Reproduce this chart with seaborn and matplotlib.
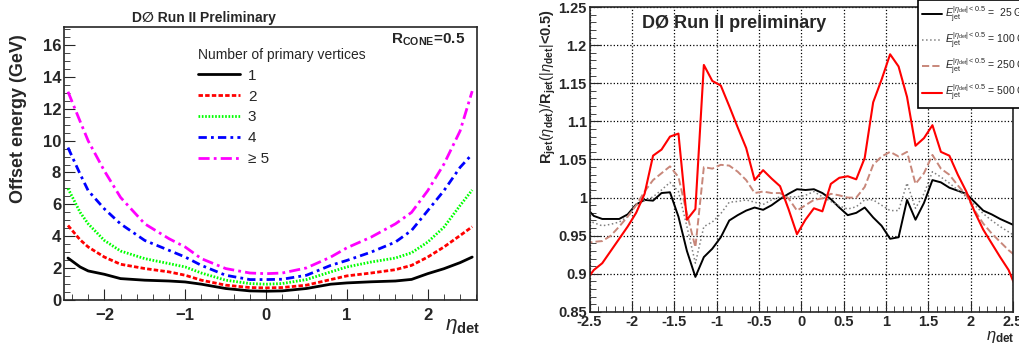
import numpy as np
import pandas as pd
import seaborn as sns
import matplotlib.pyplot as plt
from matplotlib.ticker import MultipleLocator

sns.set_style("ticks")
plt.rcParams['font.family'] = ['Liberation Sans', 'DejaVu Sans']
plt.rcParams['mathtext.fontset'] = 'custom'
plt.rcParams['mathtext.rm'] = 'Liberation Sans'
plt.rcParams['mathtext.bf'] = 'Liberation Sans:bold'
plt.rcParams['mathtext.it'] = 'Liberation Sans:italic'

# ---- left panel: offset energy vs eta_det ----
eta_off = [-2.45, -2.3, -2.2, -2.0, -1.8, -1.5, -1.2, -1.0, -0.8, -0.5, -0.2, 0.0,
           0.2, 0.5, 0.8, 1.0, 1.3, 1.6, 1.8, 2.0, 2.2, 2.4, 2.55]
off_1 = [2.64, 2.08, 1.83, 1.62, 1.35, 1.25, 1.2, 1.14, 1.0, 0.73, 0.58, 0.56,
         0.58, 0.73, 1.0, 1.08, 1.15, 1.2, 1.3, 1.66, 1.97, 2.35, 2.7]
off_2 = [4.68, 3.78, 3.33, 2.7, 2.25, 1.98, 1.77, 1.56, 1.25, 0.94, 0.79, 0.77,
         0.79, 0.94, 1.29, 1.52, 1.7, 1.91, 2.18, 2.7, 3.33, 4.05, 4.6]
off_3 = [7.0, 5.5, 4.78, 3.74, 3.08, 2.6, 2.29, 2.08, 1.7, 1.25, 1.04, 1.0,
         1.04, 1.29, 1.77, 2.08, 2.39, 2.64, 2.97, 3.64, 4.57, 5.93, 6.9]
off_4 = [9.56, 7.9, 6.86, 5.72, 4.78, 3.74, 3.12, 2.7, 2.18, 1.56, 1.29, 1.29,
         1.31, 1.56, 2.18, 2.49, 3.01, 3.64, 4.37, 5.61, 6.86, 8.32, 9.15]
off_5 = [13.06, 11.2, 9.98, 8.1, 6.44, 4.78, 3.85, 3.33, 2.6, 1.98, 1.7, 1.66,
         1.7, 2.02, 2.7, 3.28, 3.95, 4.78, 5.5, 6.86, 8.52, 10.6, 13.1]
nvtx_labels = ["1", "2", "3", "4", "\u2265 5"]

# ---- right panel: relative response vs eta_det ----
eta_resp = [-2.55, -2.45, -2.35, -2.25, -2.15, -2.05, -1.95, -1.85, -1.75, -1.65,
            -1.55, -1.45, -1.35, -1.25, -1.15, -1.05, -0.95, -0.85, -0.75, -0.65,
            -0.55, -0.45, -0.35, -0.25, -0.15, -0.05, 0.05, 0.15, 0.25, 0.35,
            0.45, 0.55, 0.65, 0.75, 0.85, 0.95, 1.05, 1.15, 1.25, 1.35,
            1.45, 1.55, 1.65, 1.75, 1.85, 1.95, 2.05, 2.15, 2.25, 2.35, 2.45, 2.55]
resp_25 = [0.988, 0.976, 0.972, 0.972, 0.972, 0.978, 0.991, 0.997, 0.996, 1.006,
           1.007, 0.975, 0.930, 0.896, 0.922, 0.933, 0.948, 0.970, 0.977, 0.983,
           0.987, 0.984, 0.990, 0.998, 1.005, 1.011, 1.010, 1.011, 1.006, 0.998,
           0.987, 0.977, 0.980, 0.987, 0.974, 0.963, 0.946, 0.948, 0.997, 0.971,
           0.993, 1.023, 1.020, 1.013, 1.009, 1.005, 0.994, 0.983, 0.978, 0.972, 0.967, 0.962]
resp_100 = [0.973, 0.967, 0.963, 0.965, 0.968, 0.975, 0.990, 0.996, 1.001, 1.010,
            1.020, 1.008, 0.962, 0.914, 0.962, 0.968, 0.979, 0.994, 0.995, 0.997,
            0.994, 0.991, 0.997, 1.001, 1.001, 1.001, 1.003, 1.008, 1.001, 0.995,
            0.989, 0.985, 0.988, 0.997, 0.997, 0.990, 0.983, 0.983, 1.019, 0.986,
            1.005, 1.034, 1.027, 1.019, 1.010, 1.001, 0.990, 0.979, 0.970, 0.962, 0.955, 0.948]
resp_250 = [0.940, 0.942, 0.943, 0.950, 0.962, 0.975, 0.990, 1.008, 1.023, 1.032,
            1.041, 1.027, 0.979, 0.935, 1.040, 1.038, 1.043, 1.042, 1.034, 1.023,
            1.006, 1.008, 1.006, 1.006, 0.999, 0.983, 0.990, 0.997, 0.999, 1.005,
            1.003, 1.000, 1.000, 1.014, 1.043, 1.054, 1.060, 1.054, 1.060, 1.018,
            1.032, 1.056, 1.038, 1.030, 1.016, 1.003, 0.983, 0.966, 0.953, 0.942, 0.931, 0.922]
resp_500 = [0.890, 0.905, 0.914, 0.930, 0.946, 0.962, 0.980, 1.005, 1.055, 1.063,
            1.080, 1.084, 0.971, 0.985, 1.174, 1.153, 1.147, 1.120, 1.092, 1.065,
            1.023, 1.036, 1.025, 1.015, 0.985, 0.952, 0.971, 0.986, 0.982, 1.018,
            1.026, 1.028, 1.024, 1.052, 1.125, 1.155, 1.188, 1.172, 1.132, 1.068,
            1.078, 1.095, 1.060, 1.055, 1.030, 1.008, 0.981, 0.958, 0.940, 0.922, 0.905, 0.878]
ejet_labels = ["=  25 GeV", "= 100 GeV", "= 250 GeV", "= 500 GeV"]

fig = plt.figure(figsize=(10.2, 3.45), dpi=100)
ax1 = fig.add_axes([0.0627, 0.130, 0.405, 0.791])
ax2 = fig.add_axes([0.578, 0.0957, 0.415, 0.884])

# left panel
off_series = [off_1, off_2, off_3, off_4, off_5]
off_colors = ["black", "#ff0000", "#00ff00", "#0000ff", "#ff00ff"]
off_dashes = [None, (1.6, 0.8), (0.6, 0.6), (3, 1.5, 1, 1.5), (4, 1.5, 1, 1.5)]
for vals, col, dsh, lab in zip(off_series, off_colors, off_dashes, nvtx_labels):
    sns.lineplot(x=eta_off, y=vals, ax=ax1, color=col, lw=2, label=lab)
    if dsh is not None:
        ax1.lines[-1].set_dashes(dsh)

ax1.set_xlim(-2.5, 2.61)
ax1.set_ylim(0, 17.1)
ax1.xaxis.set_major_locator(MultipleLocator(1))
ax1.xaxis.set_minor_locator(MultipleLocator(0.2))
ax1.yaxis.set_major_locator(MultipleLocator(2))
ax1.yaxis.set_minor_locator(MultipleLocator(0.5))
ax1.tick_params(which='both', direction='in', top=False, right=False)
ax1.tick_params(which='major', length=8, labelsize=12)
ax1.tick_params(axis='x', which='major', pad=6)
ax1.tick_params(axis='y', which='major', pad=2)
ax1.tick_params(which='minor', length=4)
for t in ax1.get_xticklabels() + ax1.get_yticklabels():
    t.set_fontweight('bold')
ax1.set_ylabel("Offset energy (GeV)", fontsize=13, fontweight='bold')
ax1.yaxis.set_label_coords(-0.09, 0.665)
ax1.set_xlabel(r"$\eta_{\mathbf{det}}$", fontsize=15)
ax1.xaxis.set_label_coords(0.965, -0.06)
ax1.set_title("D\u2205 Run II Preliminary", fontsize=10, fontweight='bold', x=0.34, pad=4)
ax1.text(0.97, 0.955, r"$\mathbf{R}_{\mathbf{CONE}}$=0.5", transform=ax1.transAxes,
         ha='right', va='center', fontsize=11, fontweight='bold')
leg1 = ax1.legend(title="Number of primary vertices", loc='upper left',
                  bbox_to_anchor=(0.29, 0.975), frameon=False, fontsize=11,
                  title_fontsize=10, handlelength=2.8, labelspacing=0.45,
                  handletextpad=0.5)
leg1._legend_box.align = "left"
for sp in ax1.spines.values():
    sp.set_linewidth(1.2)

# right panel
resp_series = [resp_25, resp_100, resp_250, resp_500]
resp_colors = ["black", "#808080", "#c8877a", "#ff0000"]
resp_styles = ["-", ":", "--", "-"]
resp_widths = [1.4, 1.1, 1.4, 1.5]
for vals, col, ls, lw, lab in zip(resp_series, resp_colors, resp_styles, resp_widths, ejet_labels):
    sns.lineplot(x=eta_resp, y=vals, ax=ax2, color=col, linestyle=ls, lw=lw,
                 label=r"$E_{\rm jet}^{|\eta_{\rm det}|<0.5}$ " + lab)

ax2.set_xlim(-2.5, 2.5)
ax2.set_ylim(0.85, 1.25)
ax2.xaxis.set_minor_locator(MultipleLocator(0.1))
ax2.yaxis.set_minor_locator(MultipleLocator(0.01))
ax2.set_xticks(np.arange(-2.5, 2.51, 0.5))
ax2.set_xticklabels(["-2.5", "-2", "-1.5", "-1", "-0.5", "0", "0.5", "1", "1.5", "2", "2.5"])
ax2.set_yticks(np.arange(0.85, 1.251, 0.05))
ax2.set_yticklabels(["0.85", "0.9", "0.95", "1", "1.05", "1.1", "1.15", "1.2", "1.25"])
ax2.grid(True, which='major', color='black', linestyle=':', lw=0.9)
ax2.tick_params(which='both', direction='in', top=False, right=False)
ax2.tick_params(which='major', length=8, labelsize=10.5, pad=2)
ax2.tick_params(which='minor', length=4)
for t in ax2.get_xticklabels() + ax2.get_yticklabels():
    t.set_fontweight('bold')
ax2.set_ylabel(r"$\mathbf{R}_{\mathbf{jet}}(\eta_{\mathbf{det}})/\mathbf{R}_{\mathbf{jet}}(|\eta_{\mathbf{det}}|$<0.5)",
               fontsize=10.5, fontweight='bold')
ax2.yaxis.set_label_coords(-0.075, 0.995)
ax2.yaxis.label.set_ha('right')
ax2.set_xlabel(r"$\eta_{\mathbf{det}}$", fontsize=12)
ax2.xaxis.set_label_coords(0.97, -0.055)
ax2.text(0.125, 0.945, "D\u00d8 Run II preliminary", transform=ax2.transAxes,
         ha='left', va='center', fontsize=13, fontweight='bold')
leg2 = ax2.legend(loc='upper left', bbox_to_anchor=(918 / 1020, 1.0),
                  bbox_transform=fig.transFigure, fontsize=7.5, frameon=True,
                  fancybox=False, edgecolor='black', framealpha=1,
                  handlelength=1.9, handletextpad=0.3, labelspacing=0.55,
                  borderpad=0.4, borderaxespad=0)
leg2.get_frame().set_linewidth(1.2)
for sp in ax2.spines.values():
    sp.set_linewidth(1.2)

fig.savefig("out.png", dpi=100)
